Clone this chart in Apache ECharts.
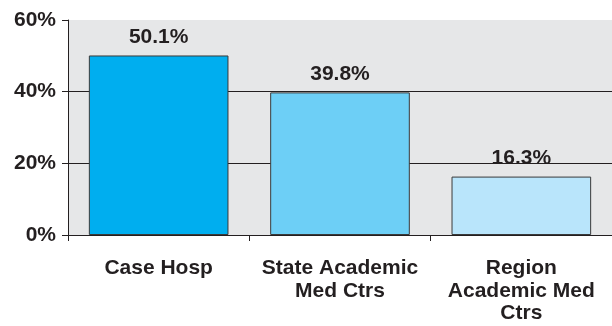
<!DOCTYPE html>
<html>
<head>
<meta charset="utf-8">
<script src="https://cdn.jsdelivr.net/npm/echarts@6/dist/echarts.min.js"></script>
<style>
  html, body { margin: 0; padding: 0; background: #ffffff; }
  #chart { width: 612px; height: 326px; }
</style>
</head>
<body>
<div id="chart"></div>
<script>
// Share of cases by hospital group (percent)
const categories = ['Case Hosp', 'State Academic\nMed Ctrs', 'Region\nAcademic Med\nCtrs'];
const values = [50.1, 39.8, 16.3];
const barColors = ['#00aeef', '#6dcff6', '#b9e5fb'];
const yTicks = [0, 20, 40, 60];

const FONT = '"Liberation Sans", Arial, Helvetica, sans-serif';
const INK = '#231f20';
const SIZE = 21;

const chart = echarts.init(document.getElementById('chart'), null, { renderer: 'canvas' });

chart.setOption({
  animation: false,
  backgroundColor: '#ffffff',
  grid: {
    left: 68, right: -2, top: 20, bottom: 91,
    show: true, backgroundColor: '#e6e7e8', borderWidth: 0
  },
  xAxis: {
    type: 'category',
    data: categories,
    axisLine: { show: true, lineStyle: { color: INK, width: 1 } },
    axisTick: { show: true, length: 6, lineStyle: { color: INK, width: 1 } },
    axisLabel: {
      interval: 0, hideOverlap: false,
      margin: 22, color: INK, fontFamily: FONT, fontWeight: 'bold',
      fontSize: SIZE, lineHeight: 22.5, align: 'center'
    }
  },
  yAxis: {
    type: 'value',
    min: yTicks[0], max: yTicks[yTicks.length - 1], interval: 20,
    axisLine: { show: true, lineStyle: { color: INK, width: 1 } },
    axisTick: { show: true, length: 6, lineStyle: { color: INK, width: 1 } },
    axisLabel: {
      margin: 12, color: INK, fontFamily: FONT, fontWeight: 'bold', fontSize: SIZE,
      formatter: v => v + '%'
    },
    splitLine: {
      show: true, showMinLine: false, showMaxLine: false,
      lineStyle: { color: INK, width: 1 }
    }
  },
  series: [{
    type: 'bar',
    barWidth: '77%',
    data: values.map((v, i) => ({
      value: v,
      itemStyle: { color: barColors[i], borderColor: '#3a3a3a', borderWidth: 1 }
    })),
    label: {
      show: true, position: 'top', distance: 8,
      color: INK, fontFamily: FONT, fontWeight: 'bold', fontSize: SIZE,
      formatter: p => p.value.toFixed(1) + '%'
    }
  }]
});
</script>
</body>
</html>
